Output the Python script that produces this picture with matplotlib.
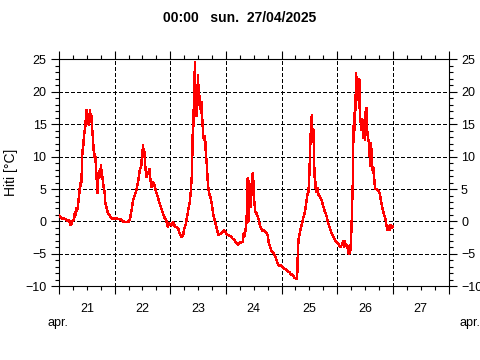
import pandas as pd
import numpy as np
import matplotlib
matplotlib.use("Agg")
import matplotlib.pyplot as plt
import matplotlib.dates as mdates
from matplotlib.ticker import MultipleLocator, FuncFormatter

plt.rcParams['font.family'] = ['Liberation Sans', 'DejaVu Sans']
plt.rcParams['lines.scale_dashes'] = False

# hours since 21/04/2025 00:00 and temperature
hours = [0, 0.7, 1.5, 2.2, 2.9, 3.6, 4.3, 5.1, 5.8, 6.5, 6.9, 7.2, 7.5, 7.8, 8.1, 8.7, 9.1, 9.4, 9.7, 9.8,
         10.1, 10.5, 10.8, 11.3, 11.6, 11.8, 12.1, 12.3, 12.6, 13.0, 13.4, 13.7, 13.9, 14.2, 14.5, 14.9,
         15.2, 15.6, 15.9, 16.3, 16.6, 16.9, 17.3, 17.6, 17.8, 18.1, 18.4, 18.8, 19.2, 19.7, 19.9, 20.5,
         21.1, 22.0, 23.1, 24.0, 25.3, 26.7, 27.5, 28.9, 30.1, 30.6,
         31.2, 31.9, 32.7, 33.4, 34.1, 34.8, 35.5, 35.8, 36.3, 36.5, 36.8, 37.3, 37.7, 38.1, 38.7, 39.1,
         39.4, 39.9, 40.3, 41.0, 41.7, 42.7, 43.5, 44.2, 44.9, 45.6, 46.3, 47.0, 47.4, 47.8, 48.5, 49.2,
         49.9, 50.6, 51.4, 52.1, 52.8, 53.5, 54.0, 54.7, 55.3, 55.8, 56.4, 56.8, 57.3, 57.6, 57.8, 58.1,
         58.6, 58.8, 59.3, 59.6, 60.0, 60.3, 60.7, 61.2, 61.4, 61.9, 62.2, 62.6, 63.0, 63.3,
         63.6, 64.0, 64.3, 64.7, 65.4, 66.0, 66.4, 67.1, 67.6, 68.3, 68.9, 69.6, 70.3, 71.0, 71.7, 72.1,
         72.9, 73.6, 74.3, 75.0, 75.7, 76.4, 77.1, 77.9, 78.6, 79.3, 79.7, 80.0, 80.4, 80.9, 81.1, 81.4,
         81.7, 82.0, 82.4, 82.7, 83.0, 83.4, 83.7, 84.0, 84.3, 84.7, 85.1, 85.7, 86.1, 86.6, 87.1, 87.9,
         88.6, 89.3, 90.0, 90.4, 91.0, 91.7, 92.6, 93.3, 93.7, 94.3, 94.9, 95.4,
         96.0, 96.7, 97.4, 98.2, 98.9, 99.6, 100.0, 100.6, 101.0, 101.7, 102.5, 102.8, 103.0, 103.3,
         103.9, 104.3, 104.9, 105.3, 105.8, 106.3, 106.8, 107.2, 107.6, 107.9, 108.2, 108.5, 108.8,
         109.1, 109.4, 109.7, 110.0, 110.2, 110.5, 110.8, 111.1, 111.5, 111.9, 112.5, 113.2, 114.0,
         114.7, 115.4, 116.1, 116.8, 117.6, 118.3,
         119.0, 119.6, 120.3, 120.7, 121.4, 122.1, 122.6, 122.9, 123.3, 123.7, 124.3, 124.7, 125.1,
         125.7, 126.1, 126.4, 126.7, 127.0, 127.3, 127.6, 127.9, 128.2, 128.4, 128.7, 129.0, 129.3,
         129.6, 129.7, 130.0, 130.4, 130.9, 131.1, 131.6, 131.9, 132.3, 132.7, 133.0, 133.4, 133.7,
         134.0, 134.3, 134.6, 135.0, 135.4, 135.7, 136.1, 136.4, 137.1, 137.9, 138.3, 138.9, 139.4,
         140.0, 140.7, 141.1, 141.6, 142.1, 142.6, 143.1, 143.6, 144.0]
temps = [1.0, 0.6, 0.4, 0.5, 0.3, 0.1, 0.2, -0.6, 0.1, 0.4, 1.5, 1.0, 2.1, 1.6, 2.3, 4.1, 5.9, 5.5, 6.1, 7.5,
         10.8, 11.8, 13.4, 14.4, 16.0, 17.2, 15.0, 15.4, 16.5, 14.9, 17.2, 15.8, 16.5, 14.9, 13.4, 11.3,
         10.0, 10.3, 8.7, 6.2, 4.4, 6.4, 7.7, 6.8, 7.2, 8.7, 7.2, 6.7, 5.4, 4.4, 3.1, 2.1,
         1.3, 0.8, 0.4, 0.5, 0.4, 0.3, 0.0, -0.1, 0.0, 0.4,
         1.5, 3.2, 4.1, 4.8, 6.1, 7.8, 8.6, 10.2, 11.8, 10.2, 10.7, 8.1, 6.8, 7.3, 7.6, 8.1,
         6.6, 5.3, 6.1, 5.8, 4.8, 3.6, 2.7, 1.9, 1.2, 0.5, 0.1, -0.9, -0.3, -0.4, -0.6, -0.1,
         -0.7, -0.9, -1.1, -1.9, -2.4, -2.2, -1.1, -0.4, 0.9, 1.9, 3.0, 4.5, 7.1, 11.7, 17.1, 14.8,
         24.5, 20.4, 16.3, 19.4, 22.5, 17.9, 19.4, 16.8, 18.4, 15.3, 13.2, 12.5, 13.2, 10.7,
         9.5, 7.2, 5.4, 4.4, 3.6, 2.6, 1.3, 0.3, -0.5, -1.5, -2.1, -1.9, -1.7, -1.4, -1.5, -1.9,
         -2.1, -2.2, -2.4, -2.7, -2.8, -3.3, -3.6, -3.3, -3.2, -3.1, -1.8, -2.3, -1.5, 0.0, 3.3, 6.7,
         0.0, 6.2, 4.4, 2.3, 4.4, 7.2, 7.4, 4.4, 2.8, 1.5, 1.3, 0.8, 0.3, -0.5, -1.0, -1.5,
         -1.4, -1.7, -2.1, -3.1, -3.9, -4.6, -4.9, -5.4, -5.9, -6.4, -6.8, -6.7,
         -6.8, -7.2, -7.3, -7.5, -7.7, -7.9, -8.3, -8.2, -8.4, -8.7, -8.8, -7.9, -4.9, -2.8,
         -1.8, -1.0, -0.3, 0.5, 1.0, 2.0, 3.3, 4.3, 4.6, 6.4, 9.7, 13.0, 15.6,
         16.4, 12.5, 14.1, 10.5, 6.9, 6.4, 4.6, 4.9, 5.1, 4.1, 3.8, 3.3, 2.3,
         1.5, 0.8, -0.3, -1.0, -1.8, -2.3,
         -2.8, -3.2, -3.3, -3.6, -3.9, -3.6, -3.1, -3.9, -3.1, -3.8, -3.6, -4.6, -5.0,
         -4.4, -1.5, 1.8, 5.9, 13.6, 16.7, 14.1, 18.8, 22.9, 19.8, 21.6, 18.8, 21.6,
         21.9, 17.2, 15.7, 14.1, 15.7, 12.9, 14.7, 12.6, 17.2, 17.5, 13.6, 12.6, 12.1,
         10.0, 8.5, 12.1, 9.0, 7.5, 8.2, 5.9, 5.1, 4.9, 4.6, 4.4, 3.1, 2.3,
         1.3, 0.5, -0.3, -1.3, -0.8, -1.3, -0.5, -1.0, -0.8]

start = pd.Timestamp('2025-04-21')
end = pd.Timestamp('2025-04-28')
title = "00:00   sun.  27/04/2025"
ylabel = "Hiti [°C]"
month = "apr."

times = start + pd.to_timedelta(hours, unit='h')

fig = plt.figure(figsize=(4.8, 3.6), dpi=100)
ax = fig.add_axes([59/480, 1 - 286.3/360, 389.5/480, 227/360])

ax.plot(times, temps, color='#ff0000', lw=1.0, antialiased=False, zorder=3)

ax.set_xlim(start, end)
ax.set_ylim(-10, 25)

ax.xaxis.set_major_locator(mdates.DayLocator())
ax.xaxis.set_minor_locator(mdates.HourLocator(byhour=[6, 12, 18]))
ax.xaxis.set_major_formatter(FuncFormatter(lambda v, p: ''))
ax.xaxis.set_minor_formatter(FuncFormatter(
    lambda v, p: mdates.num2date(v).strftime('%d') if mdates.num2date(v).hour == 12 else ''))

ax.yaxis.set_major_locator(MultipleLocator(5))
ax.yaxis.set_minor_locator(MultipleLocator(1))

ax.tick_params(which='both', direction='out', top=True, right=True, labelright=True,
               labelsize=9, width=0.8, colors='black')
ax.tick_params(which='major', length=5.5, pad=4)
ax.tick_params(which='minor', length=3, pad=4)
ax.tick_params(axis='x', which='minor', pad=9)
ax.tick_params(axis='y', which='both', labelright=True, pad=3.5)

for s in ax.spines.values():
    s.set_linewidth(0.8)

# dotted grid
for d in pd.date_range('2025-04-22', '2025-04-27'):
    ax.axvline(d, color='black', lw=0.8, linestyle=(0, (2.2, 1.6)), antialiased=False, zorder=1)
for yv in [-5, 0, 5, 10, 15, 20]:
    ax.axhline(yv, color='black', lw=0.8, linestyle=(0, (2.2, 1.6)), antialiased=False, zorder=1)

ax.set_ylabel(ylabel, fontsize=10)
ax.yaxis.set_label_coords(-0.106, 0.5)

fig.text(240/480, 1 - 18/360, title, ha='center', va='center', fontsize=10, fontweight='bold')
fig.text(58/480, 1 - 323/360, month, ha='center', va='center', fontsize=9)
fig.text(470/480, 1 - 323/360, month, ha='center', va='center', fontsize=9)

fig.savefig('out.png', dpi=100)
